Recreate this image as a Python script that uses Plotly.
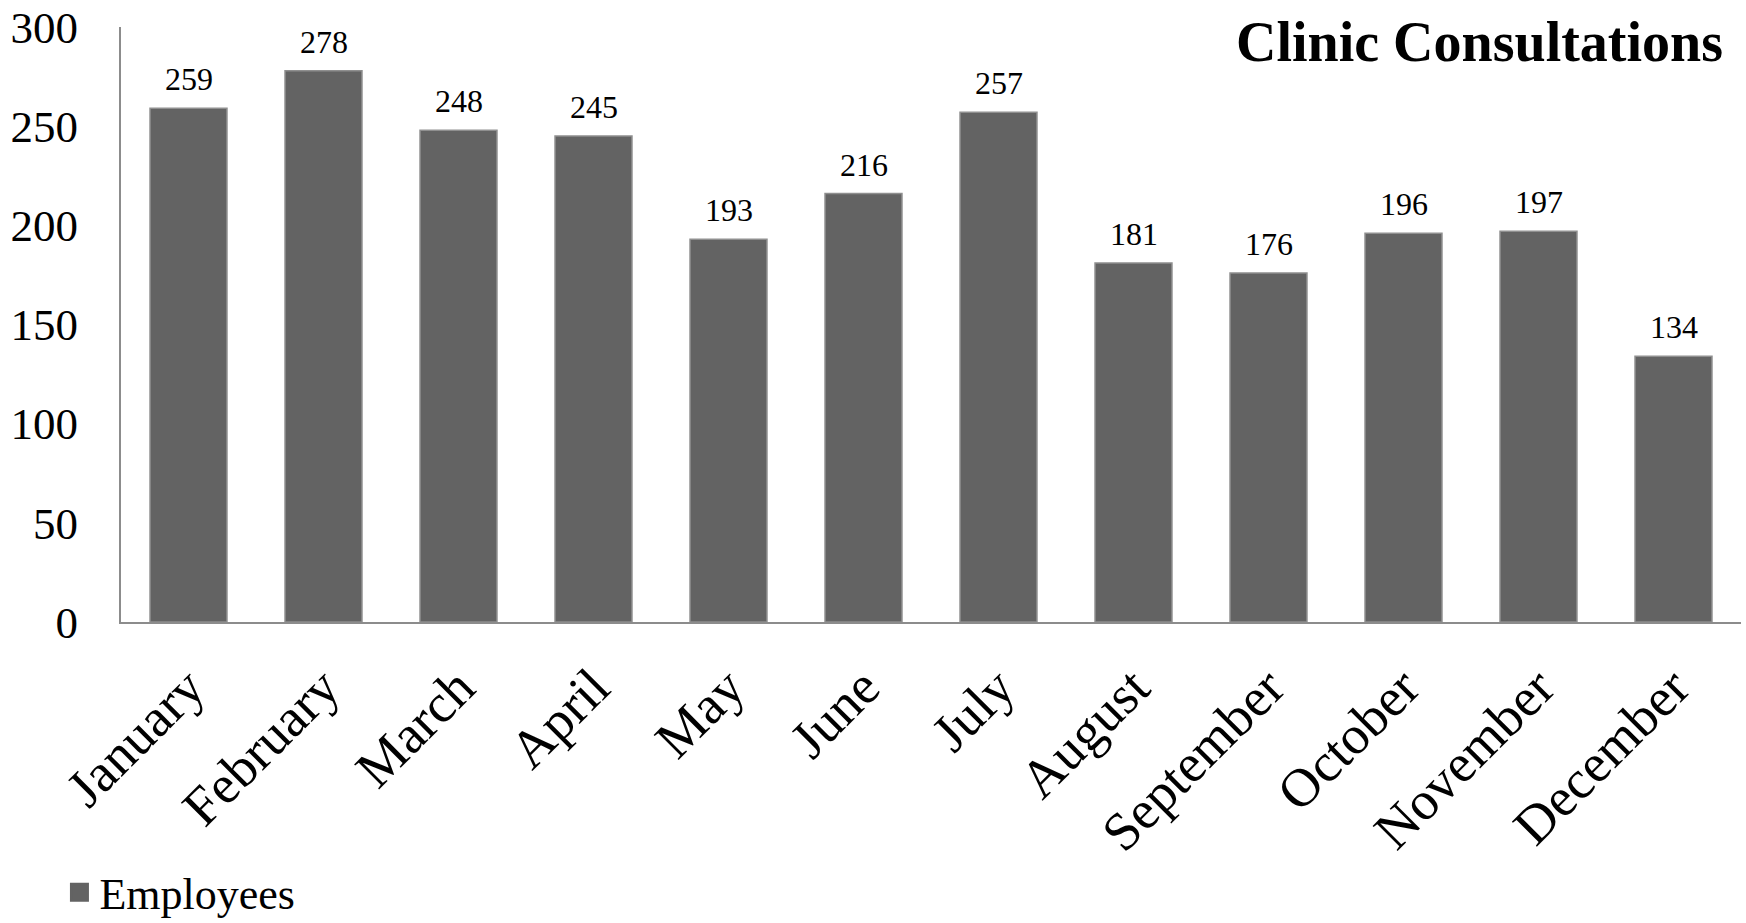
import plotly.graph_objects as go

months = ["January", "February", "March", "April", "May", "June", "July",
          "August", "September", "October", "November", "December"]
employees = [259, 278, 248, 245, 193, 216, 257, 181, 176, 196, 197, 134]
y_ticks = [0, 50, 100, 150, 200, 250, 300]
title_text = "Clinic Consultations"
series_name = "Employees"

FONT = "Liberation Serif"
BAR = "#636363"
EDGE = "#8f8f8f"
AXIS = "#8c8c8c"

fig = go.Figure()
fig.add_trace(go.Bar(
    x=months, y=employees, name=series_name, showlegend=False,
    marker=dict(color=BAR, line=dict(color=EDGE, width=1.5)),
))
# legend entry
fig.add_trace(go.Scatter(
    x=[None], y=[None], mode="markers", name=series_name,
    marker=dict(symbol="square", size=16, color=BAR, line=dict(color=BAR, width=3)),
))

for m, v in zip(months, employees):
    fig.add_annotation(x=m, y=v, text=str(v), showarrow=False,
                       xanchor="center", yanchor="bottom", yshift=9,
                       font=dict(family=FONT, size=32, color="#000000"))

fig.add_annotation(xref="paper", yref="paper", x=0.99, y=1.03,
                   xanchor="right", yanchor="top", showarrow=False,
                   text="<b>" + title_text + "</b>",
                   font=dict(family=FONT, size=56, color="#000000"))

fig.update_layout(
    width=1746, height=923,
    margin=dict(l=121, r=5, t=27, b=301, autoexpand=False),
    paper_bgcolor="white", plot_bgcolor="white",
    bargap=0.43,
    font=dict(family=FONT, color="#000000"),
    showlegend=True,
    legend=dict(orientation="h", x=-0.038, y=-0.455, xanchor="left", yanchor="middle",
                font=dict(family=FONT, size=44, color="#000000"),
                itemwidth=30, bgcolor="rgba(0,0,0,0)"),
)
fig.update_xaxes(
    showline=True, linecolor=AXIS, linewidth=2, showgrid=False, ticks="",
    tickangle=-45, tickfont=dict(family=FONT, size=54, color="#000000"),
    ticklabelstandoff=10, zeroline=False, automargin=False,
)
fig.update_yaxes(
    range=[0, 300], tickvals=y_ticks, showline=True, linecolor=AXIS, linewidth=2,
    showgrid=False, ticks="", zeroline=False, automargin=False,
    tickfont=dict(family=FONT, size=45, color="#000000"),
    ticklabelstandoff=32,
)

fig.write_html("out.html")
